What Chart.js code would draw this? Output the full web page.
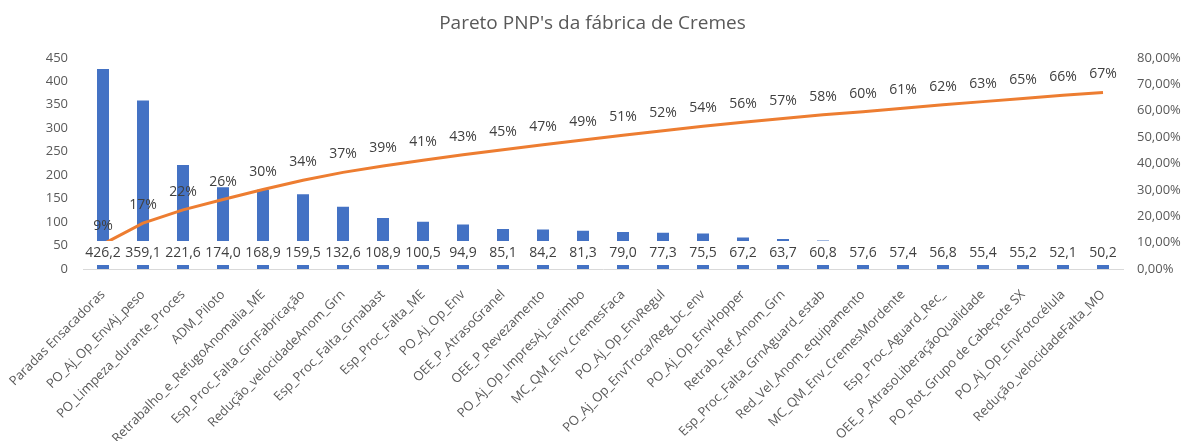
<!DOCTYPE html>
<html>
<head>
<meta charset="utf-8">
<script src="https://cdn.jsdelivr.net/npm/chart.js@4.4.1/dist/chart.umd.min.js"></script>
<style>
  html, body { margin: 0; padding: 0; background: #fff; }
  #wrap { width: 1185px; height: 441px; position: relative; }
</style>
</head>
<body>
<div id="wrap"><canvas id="pareto"></canvas></div>
<script>
// ── Data ─────────────────────────────────────────
const categories = [
  'Paradas Ensacadoras', 'PO_Aj_Op_EnvAj_peso', 'PO_Limpeza_durante_Proces', 'ADM_Piloto',
  'Retrabalho_e_RefugoAnomalia_ME', 'Esp_Proc_Falta_GrnFabricação', 'Redução_velocidadeAnom_Grn',
  'Esp_Proc_Falta_Grnabast', 'Esp_Proc_Falta_ME', 'PO_Aj_Op_Env', 'OEE_P_AtrasoGranel',
  'OEE_P_Revezamento', 'PO_Aj_Op_ImpresAj_carimbo', 'MC_QM_Env_CremesFaca', 'PO_Aj_Op_EnvRegul',
  'PO_Aj_Op_EnvTroca/Reg_bc_env', 'PO_Aj_Op_EnvHopper', 'Retrab_Ref_Anom_Grn',
  'Esp_Proc_Falta_GrnAguard_estab', 'Red_Vel_Anom_equipamento', 'MC_QM_Env_CremesMordente',
  'Esp_Proc_Aguard_Rec_', 'OEE_P_AtrasoLiberaçãoQualidade', 'PO_Rot_Grupo de Cabeçote SX',
  'PO_Aj_Op_EnvFotocélula', 'Redução_velocidadeFalta_MO'
];
const hours = [
  426.2, 359.1, 221.6, 174.0, 168.9, 159.5, 132.6, 108.9, 100.5, 94.9, 85.1, 84.2, 81.3,
  79.0, 77.3, 75.5, 67.2, 63.7, 60.8, 57.6, 57.4, 56.8, 55.4, 55.2, 52.1, 50.2
];
// cumulative share (%)
const cumulative = [
  9.4, 17.4, 22.4, 26.3, 30.1, 33.6, 36.6, 39.0, 41.2, 43.3, 45.2, 47.1, 48.9,
  50.7, 52.4, 54.1, 55.6, 57.0, 58.4, 59.6, 60.9, 62.2, 63.4, 64.6, 65.8, 66.9
];
const leftTicks  = [0, 450, 50];   // min, max, step
const rightTicks = [0, 80, 10];

const GREY = '#595959';
const TEXT = '#404040';

// ── Data labels (no datalabels plugin available) ─
const labelPlugin = {
  id: 'paretoLabels',
  afterDatasetsDraw(chart) {
    const ctx = chart.ctx;
    const bars = chart.getDatasetMeta(0).data;
    const pts  = chart.getDatasetMeta(1).data;
    const y0   = chart.scales.y.bottom;
    ctx.save();
    ctx.font = "14px 'Open Sans', sans-serif";
    ctx.textAlign = 'center';
    ctx.textBaseline = 'middle';

    // bar values sit at the base with a white box
    bars.forEach((b, i) => {
      const txt = hours[i].toFixed(1).replace('.', ',');
      const w = ctx.measureText(txt).width + 4;
      ctx.fillStyle = '#fff';
      ctx.fillRect(b.x - w / 2, y0 - 28, w, 24);
      ctx.fillStyle = TEXT;
      ctx.fillText(txt, b.x, y0 - 16);
    });

    // cumulative % above the line
    pts.forEach((p, i) => {
      ctx.fillStyle = TEXT;
      ctx.fillText(Math.round(cumulative[i]) + '%', p.x, p.y - 18);
    });
    ctx.restore();
  }
};

Chart.defaults.font.family = "'Open Sans', sans-serif";
Chart.defaults.font.size = 13;
Chart.defaults.color = GREY;

new Chart(document.getElementById('pareto'), {
  data: {
    labels: categories,
    datasets: [
      {
        type: 'bar',
        label: 'Horas',
        data: hours,
        backgroundColor: '#4472C4',
        barPercentage: 0.3,
        categoryPercentage: 1,
        yAxisID: 'y',
        order: 2,
      },
      {
        type: 'line',
        label: 'Acumulado',
        data: cumulative,
        borderColor: '#ED7D31',
        borderWidth: 3,
        pointRadius: 0,
        tension: 0,
        yAxisID: 'y1',
        order: 1,
      },
    ],
  },
  options: {
    responsive: true,
    maintainAspectRatio: false,
    animation: false,
    layout: { padding: 0 },
    plugins: {
      legend: { display: false },
      tooltip: { enabled: false },
      title: {
        display: true,
        text: "Pareto PNP's da fábrica de Cremes",
        color: GREY,
        font: { size: 19, weight: 'normal' },
        padding: { top: 12, bottom: 23 },
      },
    },
    scales: {
      x: {
        grid: { display: false },
        border: { color: '#D9D9D9', width: 1 },
        ticks: { maxRotation: 45, minRotation: 45, autoSkip: false, padding: 10, color: GREY },
        afterFit(s) { s.height = 172; s.paddingLeft = 0; s.paddingRight = 0; },
      },
      y: {
        position: 'left',
        min: leftTicks[0], max: leftTicks[1],
        grid: { display: false, drawTicks: false },
        border: { display: false },
        ticks: { stepSize: leftTicks[2], padding: 15, color: GREY },
        afterFit(s) { s.width = 83; },
      },
      y1: {
        position: 'right',
        min: rightTicks[0], max: rightTicks[1],
        grid: { display: false, drawTicks: false },
        border: { display: false },
        ticks: {
          stepSize: rightTicks[2], padding: 14, color: GREY,
          callback: v => v.toFixed(2).replace('.', ',') + '%',
        },
        afterFit(s) { s.width = 62; },
      },
    },
  },
  plugins: [labelPlugin],
});
</script>
</body>
</html>
